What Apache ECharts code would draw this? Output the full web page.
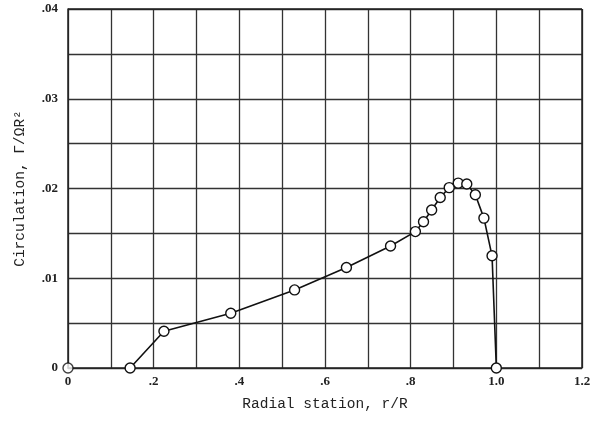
<!DOCTYPE html>
<html><head><meta charset="utf-8">
<script src="https://cdn.jsdelivr.net/npm/echarts@6/dist/echarts.min.js"></script>
<style>html,body{margin:0;padding:0;background:#fff}#c{width:594px;height:421px}</style>
</head><body><div id="c"></div>
<script>
const radialStation = [0.145, 0.224, 0.380, 0.529, 0.650, 0.753, 0.811, 0.830, 0.849, 0.869, 0.890, 0.911, 0.931, 0.951, 0.971, 0.990, 1.0];
const circulation = [0.0, 0.0041, 0.0061, 0.0087, 0.0112, 0.0136, 0.0152, 0.0163, 0.0176, 0.0190, 0.0201, 0.0206, 0.0205, 0.0193, 0.0167, 0.0125, 0.0];
const originPoint = [[0, 0]];
const xTickLabels = {'0':'0','2':'.2','4':'.4','6':'.6','8':'.8','10':'1.0','12':'1.2'};
const yTickLabels = {'0':'0','2':'.01','4':'.02','6':'.03','8':'.04'};

const font = '"Liberation Mono", "DejaVu Sans Mono", monospace';
const tickFont = '"Liberation Serif", "DejaVu Serif", serif';
const chart = echarts.init(document.getElementById('c'));
chart.setOption({
  animation: false,
  backgroundColor: '#fff',
  grid: {left: 68, right: 12, top: 9, bottom: 53},
  xAxis: {
    type: 'value', min: 0, max: 1.2, interval: 0.1,
    name: 'Radial station, r/R', nameLocation: 'middle', nameGap: 29,
    nameTextStyle: {fontFamily: font, fontSize: 14.5, color: '#222'},
    axisLine: {show: true, lineStyle: {color: '#222', width: 1.5}},
    axisTick: {show: false},
    axisLabel: {fontFamily: tickFont, fontSize: 13, color: '#222', fontWeight: 'bold', margin: 7,
      formatter: v => { const k = String(Math.round(v * 10)); return xTickLabels[k] || ''; }},
    splitLine: {show: true, lineStyle: {color: '#333', width: 1.3}}
  },
  yAxis: {
    type: 'value', min: 0, max: 0.04, interval: 0.005,
    name: 'Circulation, \u0393/\u03A9R\u00B2', nameLocation: 'middle', nameGap: 40,
    nameTextStyle: {fontFamily: font, fontSize: 14.5, color: '#222'},
    axisLine: {show: true, lineStyle: {color: '#222', width: 1.5}},
    axisTick: {show: false},
    axisLabel: {fontFamily: tickFont, fontSize: 13, color: '#222', fontWeight: 'bold', margin: 10,
      formatter: v => { const k = String(Math.round(v * 200)); return yTickLabels[k] || ''; }},
    splitLine: {show: true, lineStyle: {color: '#333', width: 1.3}}
  },
  series: [
    {
      type: 'line', clip: false,
      data: radialStation.map((x, i) => [x, circulation[i]]),
      symbol: 'circle', symbolSize: 10, showAllSymbol: true,
      lineStyle: {color: '#111', width: 1.6},
      itemStyle: {color: '#fff', borderColor: '#111', borderWidth: 1.4},
      z: 5
    },
    {
      type: 'scatter', clip: false,
      data: originPoint,
      symbol: 'circle', symbolSize: 10,
      itemStyle: {color: '#fff', borderColor: '#111', borderWidth: 1.4},
      z: 5
    },
    {
      type: 'line', silent: true, data: [],
      markLine: {silent: true, symbol: 'none', label: {show: false},
        lineStyle: {color: '#222', width: 1.5, type: 'solid'},
        data: [{yAxis: 0.04}, {xAxis: 1.2}]}
    }
  ]
});
</script></body></html>
